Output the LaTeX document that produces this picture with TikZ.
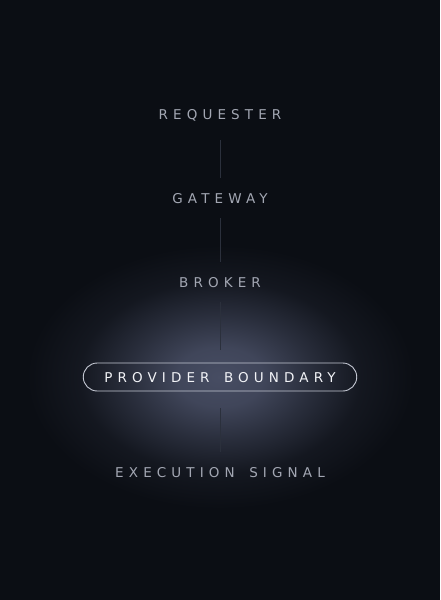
\documentclass[tikz,border=0pt]{standalone}
\usepackage{fontspec}
\setmainfont{DejaVu Sans}
\newfontfamily\tracked[LetterSpace=38]{DejaVu Sans}
\usetikzlibrary{positioning}
\definecolor{bgdark}{HTML}{0B0E14}
\definecolor{glowcore}{HTML}{474D63}
\definecolor{labeltext}{HTML}{A3A7B3}
\definecolor{linkgray}{HTML}{2B303C}
\definecolor{pilledge}{HTML}{C5C9D4}
\definecolor{pilltext}{HTML}{F2F3F7}
% the ellipse edge sits at about 25bp of the shading
\pgfdeclareradialshading{glow}{\pgfpoint{0bp}{0bp}}{%
  color(0bp)=(glowcore); color(5bp)=(glowcore!88!bgdark);
  color(10.5bp)=(glowcore!50!bgdark); color(16bp)=(glowcore!15!bgdark);
  color(22bp)=(bgdark); color(50bp)=(bgdark)}
\newcommand\wordgap{\ \hspace{5pt}}

\begin{document}
\begin{tikzpicture}[x=1pt, y=-1pt,
    tier/.style={font=\tracked\fontsize{13.5}{16}\selectfont, text=labeltext,
                 inner sep=0pt, minimum height=40pt, text height=10pt, text depth=0pt},
    edgebox/.style={tier, draw=pilledge, line width=0.9pt, text=pilltext,
                    rounded corners=14pt, minimum height=28pt, inner xsep=21pt},
    link/.style={draw=linkgray, line width=1pt}
  ]
  \useasboundingbox (0,0) rectangle (440,600);
  \fill[bgdark] (0,0) rectangle (440,600);
  \begin{scope}
    \clip (0,0) rectangle (440,600);
    \shade[shading=glow] (220,377) ellipse (220 and 150);
  \end{scope}

  \node[tier] (requester) at (220,114) {REQUESTER};
  \node[tier] (gateway) at (220,198) {GATEWAY};
  \node[tier] (broker) at (220,282) {BROKER};
  \node[edgebox] (boundary) at (220,377) {PROVIDER\wordgap BOUNDARY};
  \node[tier] (signal) at (220,472) {EXECUTION\wordgap SIGNAL};

  \draw[link, shorten <=6pt] (requester) -- (gateway);
  \draw[link] (gateway) -- (broker);
  \draw[link, shorten >=13pt] (broker) -- (boundary);
  \draw[link, shorten <=17pt] (boundary) -- (signal);
\end{tikzpicture}
\end{document}
